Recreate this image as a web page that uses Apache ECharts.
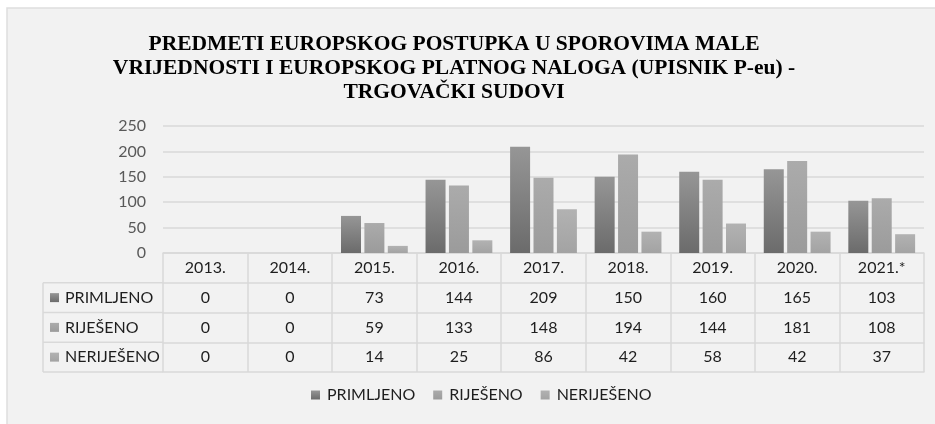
<!DOCTYPE html>
<html>
<head>
<meta charset="utf-8">
<title>Upisnik P-eu - trgovački sudovi</title>
<script src="https://cdn.jsdelivr.net/npm/echarts@6/dist/echarts.min.js"></script>
<style>
  html, body { margin: 0; padding: 0; background: #fff; }
  #chart { width: 935px; height: 424px; }
</style>
</head>
<body>
<div id="chart"></div>
<script>
// podaci s grafikona
const years = ['2013.', '2014.', '2015.', '2016.', '2017.', '2018.', '2019.', '2020.', '2021.*']
const seriesNames = ['PRIMLJENO', 'RIJEŠENO', 'NERIJEŠENO']
const primljeno = [0, 0, 73, 144, 209, 150, 160, 165, 103]
const rijeseno = [0, 0, 59, 133, 148, 194, 144, 181, 108]
const nerijeseno = [0, 0, 14, 25, 86, 42, 58, 42, 37]
const yTicks = [0, 50, 100, 150, 200, 250]
const titleLines = [
  'PREDMETI EUROPSKOG POSTUPKA U SPOROVIMA MALE',
  'VRIJEDNOSTI I EUROPSKOG PLATNOG NALOGA (UPISNIK P-eu) -',
  'TRGOVAČKI SUDOVI'
]

const FONT = 'Lato'
const LINE = '#d9d9d9'
const ROW_H = 29.75
const TABLE_LEFT = 43
const PLOT_LEFT = 163

// boje stupaca (gradijent odozgo prema dolje)
function grad(top, bottom) {
  return new echarts.graphic.LinearGradient(0, 0, 0, 1, [
    { offset: 0, color: top },
    { offset: 1, color: bottom }
  ])
}
const colors = [
  grad('#969696', '#6b6b6b'),
  grad('#ababab', '#9b9b9b'),
  grad('#b2b2b2', '#a3a3a3')
]
const seriesData = [primljeno, rijeseno, nerijeseno]

const chart = echarts.init(document.getElementById('chart'), null, { renderer: 'canvas' })

// osnovna x os (godine) + po jedna os za svaki red tablice
const xAxes = [{
  type: 'category',
  data: years,
  position: 'bottom',
  axisLine: { lineStyle: { color: LINE, width: 1.5 } },
  axisTick: { show: true, length: ROW_H, lineStyle: { color: LINE, width: 1.5 } },
  axisLabel: { color: '#1e1e1e', fontFamily: FONT, fontSize: 16, margin: 15, verticalAlign: 'middle' }
}]
seriesData.forEach((vals, i) => {
  xAxes.push({
    type: 'category',
    data: years,
    position: 'bottom',
    offset: ROW_H * (i + 1),
    axisLine: { lineStyle: { color: LINE, width: 1.5 } },
    axisTick: { show: true, length: ROW_H, lineStyle: { color: LINE, width: 1.5 } },
    axisLabel: {
      color: '#1e1e1e', fontFamily: FONT, fontSize: 16, margin: 15, verticalAlign: 'middle',
      formatter: (v, idx) => String(vals[idx])
    }
  })
})
// donji rub tablice
xAxes.push({
  type: 'category',
  data: years,
  position: 'bottom',
  offset: ROW_H * 4,
  axisLine: { lineStyle: { color: LINE, width: 1.5 } },
  axisTick: { show: false },
  axisLabel: { show: false }
})

// lijevi stupac tablice (nazivi redova)
const tableGraphics = []
for (let r = 0; r <= 3; r++) {
  const y = 253 + ROW_H * (r + 1)
  tableGraphics.push({
    type: 'line', silent: true,
    shape: { x1: TABLE_LEFT, y1: y, x2: PLOT_LEFT, y2: y },
    style: { stroke: LINE, lineWidth: 1.5 }
  })
}
tableGraphics.push({
  type: 'line', silent: true,
  shape: { x1: TABLE_LEFT, y1: 253 + ROW_H, x2: TABLE_LEFT, y2: 253 + ROW_H * 4 },
  style: { stroke: LINE, lineWidth: 1.5 }
})
seriesNames.forEach((name, i) => {
  const cy = 253 + ROW_H * (i + 1.5)
  tableGraphics.push({
    type: 'rect', silent: true,
    shape: { x: 50, y: cy - 4.5, width: 9, height: 9 },
    style: { fill: colors[i] }
  })
  tableGraphics.push({
    type: 'text', silent: true,
    x: 65, y: cy,
    style: { text: name, fill: '#1e1e1e', font: '16px ' + FONT, verticalAlign: 'middle' }
  })
})

const option = {
  backgroundColor: '#fff',
  animation: false,
  graphic: [
    {
      type: 'rect', silent: true, z: -10,
      shape: { x: 7, y: 8, width: 950, height: 440 },
      style: { fill: '#f2f2f2', stroke: '#dedede', lineWidth: 1.5 }
    },
    {
      type: 'text', silent: true,
      x: 454, y: 32,
      style: {
        text: titleLines.join('\n'),
        align: 'center',
        fill: '#000',
        font: 'bold 21.5px "Liberation Serif"',
        lineHeight: 24
      }
    }
  ].concat(tableGraphics),
  legend: {
    data: seriesNames,
    bottom: 16,
    left: 306,
    icon: 'rect',
    itemWidth: 9,
    itemHeight: 9,
    itemGap: 18,
    textStyle: { color: '#1e1e1e', fontFamily: FONT, fontSize: 16, padding: [0, 0, 0, 2] }
  },
  grid: {
    left: PLOT_LEFT,
    right: 11,
    top: 126,
    bottom: 424 - 253,
    containLabel: false
  },
  xAxis: xAxes,
  yAxis: {
    type: 'value',
    min: yTicks[0],
    max: yTicks[yTicks.length - 1],
    interval: 50,
    axisLine: { show: false },
    axisTick: { show: false },
    axisLabel: { color: '#595959', fontFamily: FONT, fontSize: 16, margin: 17 },
    splitLine: { lineStyle: { color: LINE, width: 1.5 } }
  },
  series: seriesNames.map((name, i) => ({
    name: name,
    type: 'bar',
    xAxisIndex: 0,
    data: seriesData[i],
    barWidth: 20,
    barGap: '17%',
    itemStyle: { color: colors[i] }
  }))
}

chart.setOption(option)
</script>
</body>
</html>
